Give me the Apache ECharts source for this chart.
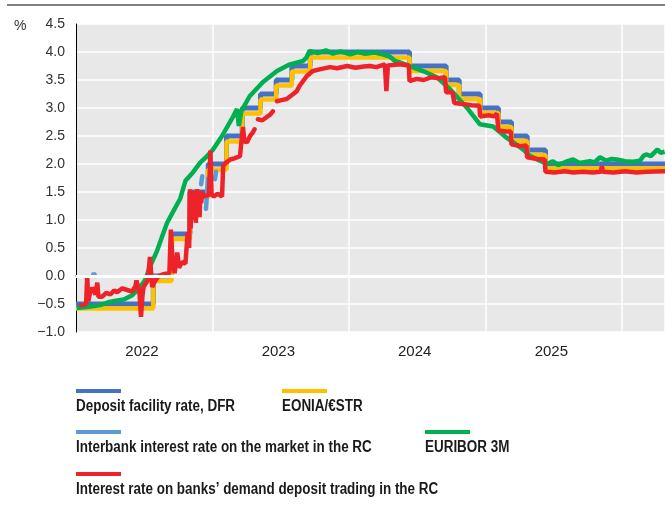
<!DOCTYPE html>
<html>
<head>
<meta charset="utf-8">
<script src="https://cdn.jsdelivr.net/npm/echarts@6/dist/echarts.min.js"></script>
<style>
  html, body { margin: 0; padding: 0; background: #fff; }
  #main { width: 665px; height: 508px; }
</style>
</head>
<body>
<div id="main"></div>
<script>
// series names, legend order
var names = [
  'Deposit facility rate, DFR',
  'EONIA/€STR',
  'Interbank interest rate on the market in the RC',
  'EURIBOR 3M',
  'Interest rate on banks’ demand deposit trading in the RC'
];
var colors = ['#4472C4', '#FFC000', '#5B9BD5', '#00B050', '#EE2229'];

// y ticks
var yMin = -1.0, yMax = 4.5, yStep = 0.5;

// DFR, step changes (date of change, new level)
var dfr = [
  ['2022-01-01', -0.5], ['2022-07-27', 0.0], ['2022-09-14', 0.75], ['2022-11-02', 1.5],
  ['2022-12-21', 2.0], ['2023-02-08', 2.5], ['2023-03-22', 3.0], ['2023-05-10', 3.25],
  ['2023-06-21', 3.5], ['2023-08-02', 3.75], ['2023-09-20', 4.0], ['2024-06-12', 3.75],
  ['2024-09-18', 3.5], ['2024-10-23', 3.25], ['2024-12-18', 3.0], ['2025-02-05', 2.75],
  ['2025-03-12', 2.5], ['2025-04-23', 2.25], ['2025-06-11', 2.0], ['2026-04-27', 2.0]
];

// EONIA / €STR, step changes
var estr = [
  ['2022-01-01', -0.58], ['2022-07-27', -0.09], ['2022-09-14', 0.66], ['2022-11-02', 1.40],
  ['2022-12-21', 1.90], ['2023-02-08', 2.40], ['2023-03-22', 2.90], ['2023-05-10', 3.15],
  ['2023-06-21', 3.40], ['2023-08-02', 3.65], ['2023-09-20', 3.90], ['2024-06-12', 3.66],
  ['2024-09-18', 3.41], ['2024-10-23', 3.16], ['2024-12-18', 2.91], ['2025-02-05', 2.66],
  ['2025-03-12', 2.41], ['2025-04-23', 2.16], ['2025-06-11', 1.92], ['2026-04-27', 1.93]
];

// interbank rate RC, only a few quotes (null = no quote)
var interbank = [
  ['2022-02-15', 0.00], ['2022-02-18', 0.05], ['2022-02-21', 0.00], ['2022-02-25', null],
  ['2022-07-22', -0.02], ['2022-08-01', 0.00], ['2022-08-05', null],
  ['2022-12-02', 1.64], ['2022-12-05', 1.78], ['2022-12-10', null],
  ['2022-12-15', 1.20], ['2022-12-18', 1.50], ['2022-12-21', 1.74], ['2022-12-28', null],
  ['2023-01-08', 1.73], ['2023-01-11', 1.86]
];

// EURIBOR 3M
var euribor = [
  ['2022-01-03', -0.57], ['2022-01-24', -0.56], ['2022-02-14', -0.54], ['2022-03-07', -0.52],
  ['2022-03-28', -0.47], ['2022-04-18', -0.44], ['2022-05-09', -0.42], ['2022-05-30', -0.35],
  ['2022-06-20', -0.22], ['2022-07-05', -0.07], ['2022-07-19', 0.18], ['2022-08-06', 0.45],
  ['2022-08-22', 0.75], ['2022-09-02', 0.95], ['2022-09-18', 1.15], ['2022-10-07', 1.38],
  ['2022-10-21', 1.70], ['2022-11-10', 1.85], ['2022-11-30', 2.03], ['2022-12-15', 2.12],
  ['2023-01-03', 2.26], ['2023-01-27', 2.50], ['2023-02-26', 2.85], ['2023-03-08', 2.98],
  ['2023-03-13', 2.68], ['2023-03-20', 2.95], ['2023-04-11', 3.21], ['2023-05-16', 3.46],
  ['2023-06-23', 3.66], ['2023-07-28', 3.78], ['2023-09-01', 3.84], ['2023-09-10', 3.90],
  ['2023-09-18', 4.02], ['2023-10-10', 3.98], ['2023-11-01', 4.03], ['2023-11-20', 3.97],
  ['2023-12-10', 4.01], ['2024-01-05', 3.96], ['2024-01-25', 4.00], ['2024-02-15', 3.97],
  ['2024-03-10', 3.99], ['2024-03-25', 3.97], ['2024-04-20', 3.92], ['2024-05-04', 3.84],
  ['2024-05-15', 3.82], ['2024-07-18', 3.66], ['2024-08-24', 3.55], ['2024-09-28', 3.34],
  ['2024-11-12', 3.01], ['2024-12-17', 2.71], ['2025-01-22', 2.67], ['2025-02-23', 2.49],
  ['2025-04-12', 2.26], ['2025-05-01', 2.14], ['2025-06-15', 2.00], ['2025-07-01', 2.05],
  ['2025-07-15', 1.98], ['2025-08-05', 2.04], ['2025-08-24', 2.08], ['2025-09-10', 2.02],
  ['2025-10-08', 2.05], ['2025-10-20', 2.03], ['2025-11-04', 2.12], ['2025-11-20', 2.06],
  ['2025-12-05', 2.09], ['2025-12-19', 2.08], ['2026-01-10', 2.05], ['2026-02-01', 2.04],
  ['2026-02-19', 2.06], ['2026-03-01', 2.15], ['2026-03-09', 2.17], ['2026-03-20', 2.14],
  ['2026-04-07', 2.26], ['2026-04-15', 2.20], ['2026-04-26', 2.22]
];

// demand deposit trading RC (null = gap in the series)
var demand = [
  ['2022-01-15', -0.52], ['2022-01-28', -0.50], ['2022-01-31', 0.00], ['2022-02-03', -0.45],
  ['2022-02-08', -0.28], ['2022-02-14', -0.21], ['2022-02-22', -0.33], ['2022-02-27', -0.12],
  ['2022-03-02', -0.37], ['2022-03-12', -0.37], ['2022-03-23', -0.30], ['2022-04-03', -0.33],
  ['2022-04-13', -0.26], ['2022-04-21', -0.29], ['2022-05-05', -0.22], ['2022-05-18', -0.25],
  ['2022-06-01', -0.28], ['2022-06-09', -0.18], ['2022-06-12', -0.08], ['2022-06-20', -0.30],
  ['2022-06-24', -0.73], ['2022-06-28', -0.35], ['2022-07-01', -0.19], ['2022-07-12', -0.08],
  ['2022-07-18', 0.34], ['2022-07-24', -0.20], ['2022-07-29', -0.12], ['2022-08-10', 0.00],
  ['2022-08-22', 0.03], ['2022-09-08', 0.05], ['2022-09-12', 0.83], ['2022-09-16', 0.30],
  ['2022-09-22', 0.05], ['2022-09-29', 0.42], ['2022-10-04', 0.15], ['2022-10-12', 0.25],
  ['2022-10-21', 0.22], ['2022-10-27', 0.78], ['2022-10-31', 0.50], ['2022-11-02', 1.55],
  ['2022-11-04', 0.85], ['2022-11-07', 1.50], ['2022-11-09', 1.00], ['2022-11-11', 1.52],
  ['2022-11-14', 1.10], ['2022-11-16', 1.48], ['2022-11-18', 0.95], ['2022-11-21', 1.55],
  ['2022-11-23', 1.20], ['2022-11-25', 1.50], ['2022-11-28', 1.05], ['2022-11-30', 1.52],
  ['2022-12-02', 1.30], ['2022-12-05', 1.50], ['2022-12-09', 1.42], ['2022-12-23', 1.45],
  ['2022-12-27', 2.24], ['2022-12-30', 1.45], ['2023-01-05', 1.42], ['2023-01-15', 1.47],
  ['2023-01-27', 1.42], ['2023-01-30', 1.96], ['2023-02-06', 2.02], ['2023-02-18', 2.08],
  ['2023-03-01', 2.10], ['2023-03-16', 2.14], ['2023-03-24', 2.66], ['2023-03-28', 2.40],
  ['2023-04-04', 2.39], ['2023-04-12', 2.50], ['2023-04-19', 2.56], ['2023-04-24', 2.62],
  ['2023-04-28', null], ['2023-05-03', 2.80], ['2023-05-15', 2.78], ['2023-05-27', 2.84],
  ['2023-06-05', 2.88], ['2023-06-12', 2.94], ['2023-06-17', null], ['2023-06-23', 3.12],
  ['2023-07-05', 3.14], ['2023-07-19', 3.16], ['2023-08-04', 3.24], ['2023-08-15', 3.30],
  ['2023-08-23', 3.40], ['2023-09-03', 3.50], ['2023-09-11', 3.57], ['2023-09-27', 3.66],
  ['2023-10-15', 3.69], ['2023-11-12', 3.73], ['2023-12-01', 3.71], ['2023-12-28', 3.75],
  ['2024-01-20', 3.72], ['2024-02-10', 3.74], ['2024-02-27', 3.75], ['2024-03-15', 3.73],
  ['2024-04-07', 3.78], ['2024-04-11', 3.30], ['2024-04-15', 3.76], ['2024-05-17', 3.78],
  ['2024-06-10', 3.76], ['2024-06-12', 3.48], ['2024-07-01', 3.52], ['2024-07-20', 3.50],
  ['2024-08-10', 3.55], ['2024-08-30', 3.53], ['2024-09-15', 3.55], ['2024-09-18', 3.28],
  ['2024-10-05', 3.28], ['2024-10-10', 3.09], ['2024-11-01', 3.07], ['2024-11-25', 3.05],
  ['2024-12-16', 3.04], ['2024-12-18', 2.85], ['2025-01-10', 2.87], ['2025-01-25', 2.85],
  ['2025-02-01', 2.90], ['2025-02-05', 2.60], ['2025-02-25', 2.58], ['2025-03-10', 2.58],
  ['2025-03-12', 2.35], ['2025-04-05', 2.32], ['2025-04-21', 2.33], ['2025-04-23', 2.12],
  ['2025-05-20', 2.09], ['2025-06-09', 2.08], ['2025-06-11', 1.86], ['2025-07-05', 1.85],
  ['2025-08-01', 1.87], ['2025-08-25', 1.85], ['2025-09-20', 1.86], ['2025-10-15', 1.85],
  ['2025-11-06', 1.86], ['2025-11-09', 1.96], ['2025-11-12', 1.86], ['2025-12-10', 1.85],
  ['2026-01-10', 1.87], ['2026-02-10', 1.85], ['2026-03-10', 1.86], ['2026-04-26', 1.87]
];

var xStart = '2022-01-01', xEnd = '2026-04-27';

function prep(arr) {
  return arr.map(function (d) { return [d[0], d[1] === null ? '-' : d[1]]; });
}

function fmtY(v) {
  var s = Math.abs(v).toFixed(1);
  return v < 0 ? '\u2212' + s : s;
}

var chart = echarts.init(document.getElementById('main'), null, { renderer: 'canvas' });

// legend drawn by hand: line above, text below (text squeezed to look condensed)
var legendPos = [[76, 391], [282, 391], [76, 432], [425, 432], [76, 474]];
var legendGraphics = [];
names.forEach(function (n, i) {
  var p = legendPos[i];
  legendGraphics.push({
    type: 'rect', x: p[0], y: p[1] - 2,
    shape: { width: 45, height: 4 },
    style: { fill: colors[i] }, silent: true
  });
  legendGraphics.push({
    type: 'text', x: p[0], y: p[1] + 16, scaleX: 0.84, scaleY: 1,
    style: {
      text: n, fill: '#1a1a1a', verticalAlign: 'middle',
      font: 'bold 16px "Liberation Sans", sans-serif'
    }, silent: true
  });
});
legendGraphics.push({
  type: 'line', silent: true,
  shape: { x1: 7, y1: 5, x2: 665, y2: 5 },
  style: { stroke: '#808080', lineWidth: 2 }
});

var lineBase = { type: 'line', symbol: 'none', showSymbol: false, connectNulls: false, animation: false };

var option = {
  animation: false,
  title: {
    text: '%', left: 9, top: 14,
    textStyle: { fontSize: 14, fontWeight: 'normal', color: '#333', fontFamily: 'Liberation Sans' }
  },
  grid: {
    left: 76, right: 0, top: 24, bottom: 176, containLabel: false, outerBoundsMode: 'none',
    show: true, backgroundColor: '#E8E8E8', borderWidth: 0
  },
  xAxis: {
    type: 'time', min: xStart, max: xEnd, splitNumber: 4,
    minInterval: 365 * 24 * 3600 * 1000,
    axisLine: { show: true, lineStyle: { color: '#5a5a5a', width: 1.5 } },
    axisTick: { show: false },
    splitLine: { show: true, lineStyle: { color: '#ffffff', width: 1.5 } },
    axisLabel: {
      showMinLabel: true, margin: 12, padding: [0, 0, 0, 132],
      color: '#222', fontSize: 15, fontFamily: 'Liberation Sans',
      formatter: function (v) {
        var d = new Date(v);
        return (d.getMonth() === 0 && d.getDate() === 1) ? String(d.getFullYear()) : '';
      }
    }
  },
  yAxis: {
    type: 'value', min: yMin, max: yMax, interval: yStep,
    axisLine: { show: true, lineStyle: { color: '#000', width: 1 } },
    axisTick: { show: false },
    splitLine: { show: true, lineStyle: { color: '#ffffff', width: 1.5 } },
    axisLabel: { formatter: fmtY, color: '#333', fontSize: 14, margin: 11, fontFamily: 'Liberation Sans' }
  },
  graphic: legendGraphics,
  series: [
    Object.assign({}, lineBase, {
      name: 'zero', data: [], silent: true,
      markLine: {
        silent: true, symbol: 'none', label: { show: false },
        lineStyle: { color: '#ffffff', width: 3, type: 'solid' },
        data: [{ yAxis: 0 }]
      }
    }),
    Object.assign({}, lineBase, { name: names[0], step: 'end', data: prep(dfr), lineStyle: { color: colors[0], width: 5 } }),
    Object.assign({}, lineBase, { name: names[1], step: 'end', data: prep(estr), lineStyle: { color: colors[1], width: 4.5 } }),
    Object.assign({}, lineBase, { name: names[2], data: prep(interbank), lineStyle: { color: colors[2], width: 4.5, cap: 'round' } }),
    Object.assign({}, lineBase, { name: names[3], data: prep(euribor), lineStyle: { color: colors[3], width: 4.5 } }),
    Object.assign({}, lineBase, { name: names[4], data: prep(demand), lineStyle: { color: colors[4], width: 4.5, cap: 'round' } })
  ]
};

chart.setOption(option);
</script>
</body>
</html>
